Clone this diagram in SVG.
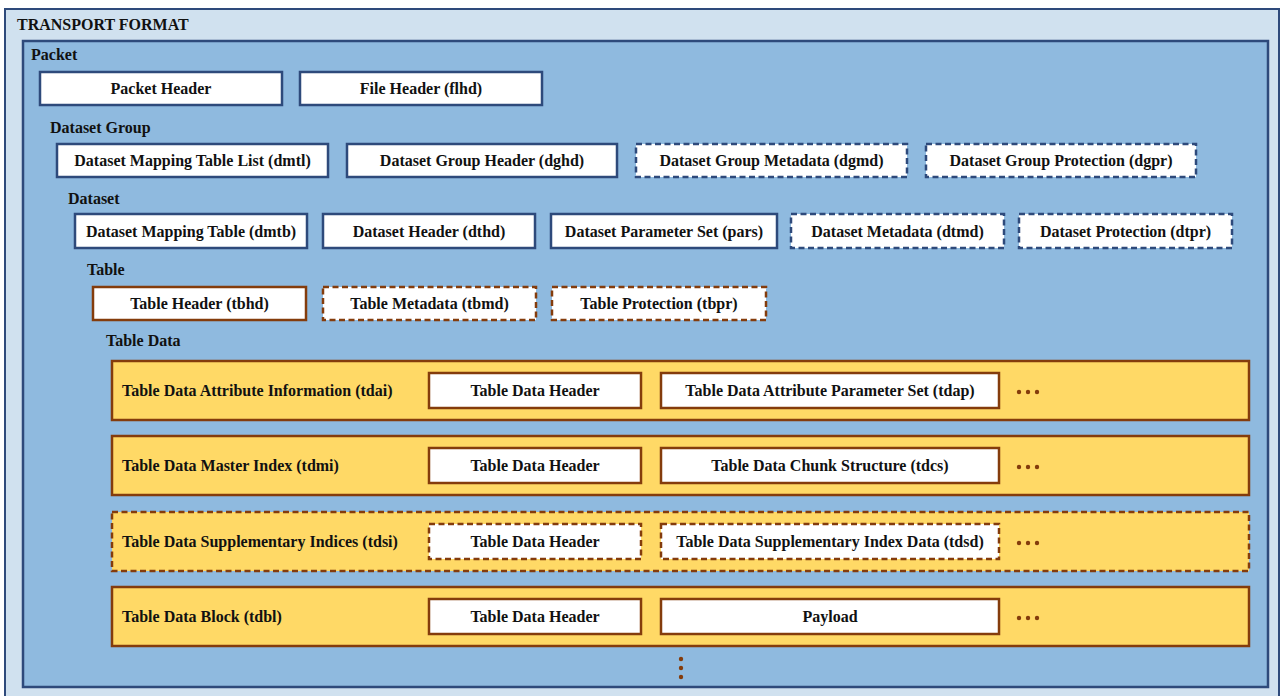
<svg xmlns="http://www.w3.org/2000/svg" width="1282" height="696" viewBox="0 0 1282 696" font-family="Liberation Serif" font-weight="bold" font-size="16">
<style>
.c{text-anchor:middle}
.nb{fill:#fff;stroke:#2E4A7B;stroke-width:2.5}
.nbd{fill:#fff;stroke:#2E4A7B;stroke-width:2.5;stroke-dasharray:6 3.5}
.bb{fill:#fff;stroke:#843C0C;stroke-width:2.5}
.bbd{fill:#fff;stroke:#843C0C;stroke-width:2.5;stroke-dasharray:6 3.5}
.yr{fill:#FFD966;stroke:#843C0C;stroke-width:2.5}
.yrd{fill:#FFD966;stroke:#843C0C;stroke-width:2.5;stroke-dasharray:6 3.5}
.dot{fill:#843C0C}
</style>
<g id="transport-format">
<rect x="5" y="9" width="1274" height="700" fill="#D0E1EF" stroke="#2E4A7B" stroke-width="2"/>
<text x="17" y="30" fill="#111">TRANSPORT FORMAT</text>
</g>
<g fill="#111">
<g id="packet">
<rect x="23" y="41" width="1245" height="646" fill="#8FBADF" stroke="#2E4A7B" stroke-width="2.5"/>
<text x="31" y="60">Packet</text>
</g>
<g id="packet-header"><rect class="nb" x="40" y="72" width="242" height="33"/><text class="c" x="161" y="94">Packet Header</text></g>
<g id="flhd"><rect class="nb" x="300" y="72" width="242" height="33"/><text class="c" x="421" y="94">File Header (flhd)</text></g>

<g id="dataset-group-label"><text x="50" y="133">Dataset Group</text></g>
<g id="dmtl"><rect class="nb" x="57" y="144" width="271" height="33"/><text class="c" x="192.5" y="166">Dataset Mapping Table List (dmtl)</text></g>
<g id="dghd"><rect class="nb" x="347" y="144" width="270" height="33"/><text class="c" x="482" y="166">Dataset Group Header (dghd)</text></g>
<g id="dgmd"><rect class="nbd" x="636" y="144" width="271" height="33"/><text class="c" x="771.5" y="166">Dataset Group Metadata (dgmd)</text></g>
<g id="dgpr"><rect class="nbd" x="926" y="144" width="270" height="33"/><text class="c" x="1061" y="166">Dataset Group Protection (dgpr)</text></g>

<g id="dataset-label"><text x="68" y="204">Dataset</text></g>
<g id="dmtb"><rect class="nb" x="75" y="214" width="232" height="34"/><text class="c" x="191" y="236.5">Dataset Mapping Table (dmtb)</text></g>
<g id="dthd"><rect class="nb" x="323" y="214" width="212" height="34"/><text class="c" x="429" y="236.5">Dataset Header (dthd)</text></g>
<g id="pars"><rect class="nb" x="551" y="214" width="226" height="34"/><text class="c" x="664" y="236.5">Dataset Parameter Set (pars)</text></g>
<g id="dtmd"><rect class="nbd" x="791" y="214" width="213" height="34"/><text class="c" x="897.5" y="236.5">Dataset Metadata (dtmd)</text></g>
<g id="dtpr"><rect class="nbd" x="1019" y="214" width="213" height="34"/><text class="c" x="1125.5" y="236.5">Dataset Protection (dtpr)</text></g>

<g id="table-label"><text x="87" y="275">Table</text></g>
<g id="tbhd"><rect class="bb" x="93" y="287" width="213" height="33"/><text class="c" x="199.5" y="309">Table Header (tbhd)</text></g>
<g id="tbmd"><rect class="bbd" x="323" y="287" width="213" height="33"/><text class="c" x="429.5" y="309">Table Metadata (tbmd)</text></g>
<g id="tbpr"><rect class="bbd" x="552" y="287" width="214" height="33"/><text class="c" x="659" y="309">Table Protection (tbpr)</text></g>

<g id="table-data-label"><text x="106" y="346">Table Data</text></g>

<g id="tdai">
<rect class="yr" x="112" y="361" width="1137" height="59"/>
<text x="122" y="396">Table Data Attribute Information (tdai)</text>
<rect class="bb" x="429" y="373" width="212" height="35"/><text class="c" x="535" y="396">Table Data Header</text>
<rect class="bb" x="661" y="373" width="338" height="35"/><text class="c" x="830" y="396">Table Data Attribute Parameter Set (tdap)</text>
<circle class="dot" cx="1019" cy="392" r="2.2"/><circle class="dot" cx="1028" cy="392" r="2.2"/><circle class="dot" cx="1037" cy="392" r="2.2"/>
</g>
<g id="tdmi">
<rect class="yr" x="112" y="436" width="1137" height="59"/>
<text x="122" y="471">Table Data Master Index (tdmi)</text>
<rect class="bb" x="429" y="448" width="212" height="35"/><text class="c" x="535" y="471">Table Data Header</text>
<rect class="bb" x="661" y="448" width="338" height="35"/><text class="c" x="830" y="471">Table Data Chunk Structure (tdcs)</text>
<circle class="dot" cx="1019" cy="467" r="2.2"/><circle class="dot" cx="1028" cy="467" r="2.2"/><circle class="dot" cx="1037" cy="467" r="2.2"/>
</g>
<g id="tdsi">
<rect class="yrd" x="112" y="512" width="1137" height="59"/>
<text x="122" y="547">Table Data Supplementary Indices (tdsi)</text>
<rect class="bbd" x="429" y="524" width="212" height="35"/><text class="c" x="535" y="547">Table Data Header</text>
<rect class="bbd" x="661" y="524" width="338" height="35"/><text class="c" x="830" y="547">Table Data Supplementary Index Data (tdsd)</text>
<circle class="dot" cx="1019" cy="543" r="2.2"/><circle class="dot" cx="1028" cy="543" r="2.2"/><circle class="dot" cx="1037" cy="543" r="2.2"/>
</g>
<g id="tdbl">
<rect class="yr" x="112" y="587" width="1137" height="59"/>
<text x="122" y="622">Table Data Block (tdbl)</text>
<rect class="bb" x="429" y="599" width="212" height="35"/><text class="c" x="535" y="622">Table Data Header</text>
<rect class="bb" x="661" y="599" width="338" height="35"/><text class="c" x="830" y="622">Payload</text>
<circle class="dot" cx="1019" cy="618" r="2.2"/><circle class="dot" cx="1028" cy="618" r="2.2"/><circle class="dot" cx="1037" cy="618" r="2.2"/>
</g>
<g id="more-blocks">
<circle class="dot" cx="681" cy="659" r="2.2"/><circle class="dot" cx="681" cy="668" r="2.2"/><circle class="dot" cx="681" cy="677" r="2.2"/>
</g>
</g>
<g id="connectors"/>
</svg>
